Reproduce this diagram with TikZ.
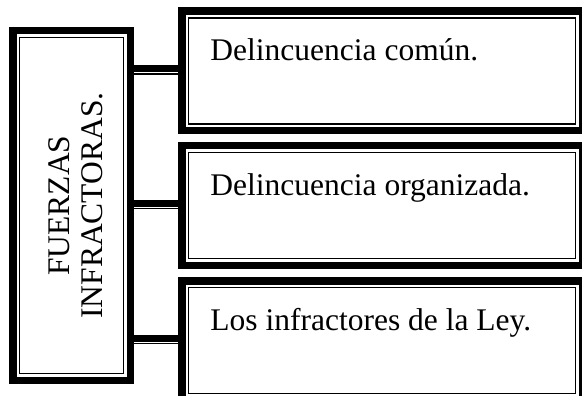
\documentclass[tikz,border=0pt]{standalone}
\usepackage{fontspec}
\setmainfont{Liberation Serif}
\usetikzlibrary{positioning}

\tikzset{
  framebox/.style={draw, rectangle, line width=7.5pt, inner sep=0pt, outer sep=0pt},
  innerrule/.style={draw, line width=1.4pt},
  barrule/.style={line width=7pt},
  thinrule/.style={line width=1.5pt},
  boxtext/.style={font=\fontsize{31.5}{33}\selectfont, inner sep=0pt, anchor=base west},
}

\begin{document}
\begin{tikzpicture}[x=1pt,y=-1pt]
	\useasboundingbox (0,0) rectangle (582,396);
	% Define nodes
	\node[framebox, minimum width=117.5pt, minimum height=349.5pt] (fz) at (71.5,205.5) {};
	\node[framebox, minimum width=400.5pt, minimum height=119.5pt] (d1) at (382,71) {};
	\node[framebox, minimum width=400.5pt, minimum height=119.5pt, below=15pt of d1] (d2) {};
	\node[framebox, minimum width=400.5pt, minimum height=119.5pt, below=15.5pt of d2] (d3) {};
	% Inner rules
	\foreach \n in {fz,d1,d2,d3}
		\draw[innerrule] ([shift={(6.75pt,-6.75pt)}]\n.north west) rectangle ([shift={(-6.75pt,6.75pt)}]\n.south east);
	% Texts
	\node[font=\fontsize{31.5}{33}\selectfont, rotate=90, align=center, inner sep=0pt] (fzt) at ([xshift=4.5pt]fz.center) {FUERZAS\\INFRACTORAS.};
	\node[boxtext] (t1) at ([shift={(28.5pt,-49.25pt)}]d1.north west) {Delincuencia común.};
	\node[boxtext] (t2) at ([shift={(28.5pt,-49.25pt)}]d2.north west) {Delincuencia organizada.};
	\node[boxtext] (t3) at ([shift={(28.5pt,-49.25pt)}]d3.north west) {Los infractores de la Ley.};
	% Connect the nodes
	\foreach \n in {d1,d2,d3} {
		\draw[barrule] ([yshift=2.5pt]fz.east |- \n.west) -- ([yshift=2.5pt]\n.west);
		\draw[thinrule] ([yshift=-3pt]fz.east |- \n.west) -- ([yshift=-3pt]\n.west);
	}
\end{tikzpicture}
\end{document}
